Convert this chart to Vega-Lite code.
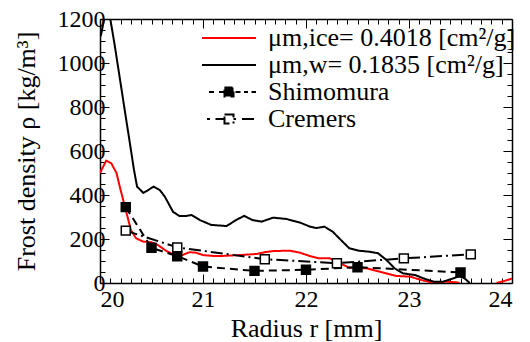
{
  "$schema": "https://vega.github.io/schema/vega-lite/v6.json",
  "autosize": "none",
  "width": 412,
  "height": 264,
  "padding": {"left": 100, "top": 19, "right": 18, "bottom": 59},
  "background": "white",
  "config": {
    "font": "Liberation Serif",
    "style": {
      "guide-label": {"font": "Liberation Serif", "fill": "black"},
      "guide-title": {"font": "Liberation Serif", "fill": "black"}
    },
    "view": {"stroke": null},
    "axis": {
      "grid": false,
      "domainColor": "black",
      "domainWidth": 1.5,
      "tickColor": "black",
      "tickWidth": 1,
      "labelFont": "Liberation Serif",
      "labelFontSize": 24,
      "labelColor": "black",
      "titleFont": "Liberation Serif",
      "titleFontSize": 26,
      "titleFontWeight": "normal",
      "titleColor": "black",
      "labelOverlap": false
    },
    "legend": {
      "labelFont": "Liberation Serif",
      "labelFontSize": 26,
      "labelColor": "black",
      "labelLimit": 0
    }
  },
  "data": {
    "values": [
      {"series": "μm,ice= 0.4018 [cm²/g]", "seg": "a", "r": 20.00, "rho": 500},
      {"series": "μm,ice= 0.4018 [cm²/g]", "seg": "a", "r": 20.06, "rho": 556},
      {"series": "μm,ice= 0.4018 [cm²/g]", "seg": "a", "r": 20.11, "rho": 544},
      {"series": "μm,ice= 0.4018 [cm²/g]", "seg": "a", "r": 20.16, "rho": 500},
      {"series": "μm,ice= 0.4018 [cm²/g]", "seg": "a", "r": 20.20, "rho": 423},
      {"series": "μm,ice= 0.4018 [cm²/g]", "seg": "a", "r": 20.25, "rho": 332},
      {"series": "μm,ice= 0.4018 [cm²/g]", "seg": "a", "r": 20.30, "rho": 241},
      {"series": "μm,ice= 0.4018 [cm²/g]", "seg": "a", "r": 20.35, "rho": 203},
      {"series": "μm,ice= 0.4018 [cm²/g]", "seg": "a", "r": 20.42, "rho": 188},
      {"series": "μm,ice= 0.4018 [cm²/g]", "seg": "a", "r": 20.50, "rho": 185},
      {"series": "μm,ice= 0.4018 [cm²/g]", "seg": "a", "r": 20.56, "rho": 173},
      {"series": "μm,ice= 0.4018 [cm²/g]", "seg": "a", "r": 20.64, "rho": 147},
      {"series": "μm,ice= 0.4018 [cm²/g]", "seg": "a", "r": 20.72, "rho": 128},
      {"series": "μm,ice= 0.4018 [cm²/g]", "seg": "a", "r": 20.80, "rho": 127},
      {"series": "μm,ice= 0.4018 [cm²/g]", "seg": "a", "r": 20.87, "rho": 140},
      {"series": "μm,ice= 0.4018 [cm²/g]", "seg": "a", "r": 20.93, "rho": 138},
      {"series": "μm,ice= 0.4018 [cm²/g]", "seg": "a", "r": 21.00, "rho": 127},
      {"series": "μm,ice= 0.4018 [cm²/g]", "seg": "a", "r": 21.10, "rho": 123},
      {"series": "μm,ice= 0.4018 [cm²/g]", "seg": "a", "r": 21.19, "rho": 123},
      {"series": "μm,ice= 0.4018 [cm²/g]", "seg": "a", "r": 21.36, "rho": 127},
      {"series": "μm,ice= 0.4018 [cm²/g]", "seg": "a", "r": 21.52, "rho": 132},
      {"series": "μm,ice= 0.4018 [cm²/g]", "seg": "a", "r": 21.60, "rho": 140},
      {"series": "μm,ice= 0.4018 [cm²/g]", "seg": "a", "r": 21.68, "rho": 145},
      {"series": "μm,ice= 0.4018 [cm²/g]", "seg": "a", "r": 21.84, "rho": 147},
      {"series": "μm,ice= 0.4018 [cm²/g]", "seg": "a", "r": 21.94, "rho": 138},
      {"series": "μm,ice= 0.4018 [cm²/g]", "seg": "a", "r": 22.04, "rho": 122},
      {"series": "μm,ice= 0.4018 [cm²/g]", "seg": "a", "r": 22.13, "rho": 112},
      {"series": "μm,ice= 0.4018 [cm²/g]", "seg": "a", "r": 22.23, "rho": 112},
      {"series": "μm,ice= 0.4018 [cm²/g]", "seg": "a", "r": 22.33, "rho": 89},
      {"series": "μm,ice= 0.4018 [cm²/g]", "seg": "a", "r": 22.42, "rho": 70},
      {"series": "μm,ice= 0.4018 [cm²/g]", "seg": "a", "r": 22.59, "rho": 67},
      {"series": "μm,ice= 0.4018 [cm²/g]", "seg": "a", "r": 22.72, "rho": 51},
      {"series": "μm,ice= 0.4018 [cm²/g]", "seg": "a", "r": 22.88, "rho": 32},
      {"series": "μm,ice= 0.4018 [cm²/g]", "seg": "a", "r": 23.01, "rho": 29},
      {"series": "μm,ice= 0.4018 [cm²/g]", "seg": "a", "r": 23.14, "rho": 11},
      {"series": "μm,ice= 0.4018 [cm²/g]", "seg": "a", "r": 23.24, "rho": 1},
      {"series": "μm,ice= 0.4018 [cm²/g]", "seg": "a", "r": 23.36, "rho": 6},
      {"series": "μm,ice= 0.4018 [cm²/g]", "seg": "a", "r": 23.46, "rho": 3},
      {"series": "μm,ice= 0.4018 [cm²/g]", "seg": "a", "r": 23.49, "rho": 0},
      {"series": "μm,ice= 0.4018 [cm²/g]", "seg": "b", "r": 23.85, "rho": 0},
      {"series": "μm,ice= 0.4018 [cm²/g]", "seg": "b", "r": 23.93, "rho": 10},
      {"series": "μm,ice= 0.4018 [cm²/g]", "seg": "b", "r": 24.00, "rho": 20},
      {"series": "μm,w= 0.1835 [cm²/g]", "seg": "a", "r": 20.00, "rho": 1120},
      {"series": "μm,w= 0.1835 [cm²/g]", "seg": "a", "r": 20.01, "rho": 1127},
      {"series": "μm,w= 0.1835 [cm²/g]", "seg": "a", "r": 20.04, "rho": 1200},
      {"series": "μm,w= 0.1835 [cm²/g]", "seg": "a", "r": 20.10, "rho": 1200},
      {"series": "μm,w= 0.1835 [cm²/g]", "seg": "a", "r": 20.14, "rho": 1089},
      {"series": "μm,w= 0.1835 [cm²/g]", "seg": "a", "r": 20.19, "rho": 938},
      {"series": "μm,w= 0.1835 [cm²/g]", "seg": "a", "r": 20.24, "rho": 786},
      {"series": "μm,w= 0.1835 [cm²/g]", "seg": "a", "r": 20.29, "rho": 636},
      {"series": "μm,w= 0.1835 [cm²/g]", "seg": "a", "r": 20.33, "rho": 514},
      {"series": "μm,w= 0.1835 [cm²/g]", "seg": "a", "r": 20.36, "rho": 438},
      {"series": "μm,w= 0.1835 [cm²/g]", "seg": "a", "r": 20.42, "rho": 410},
      {"series": "μm,w= 0.1835 [cm²/g]", "seg": "a", "r": 20.46, "rho": 420},
      {"series": "μm,w= 0.1835 [cm²/g]", "seg": "a", "r": 20.52, "rho": 438},
      {"series": "μm,w= 0.1835 [cm²/g]", "seg": "a", "r": 20.58, "rho": 423},
      {"series": "μm,w= 0.1835 [cm²/g]", "seg": "a", "r": 20.63, "rho": 392},
      {"series": "μm,w= 0.1835 [cm²/g]", "seg": "a", "r": 20.71, "rho": 323},
      {"series": "μm,w= 0.1835 [cm²/g]", "seg": "a", "r": 20.77, "rho": 305},
      {"series": "μm,w= 0.1835 [cm²/g]", "seg": "a", "r": 20.84, "rho": 305},
      {"series": "μm,w= 0.1835 [cm²/g]", "seg": "a", "r": 20.89, "rho": 309},
      {"series": "μm,w= 0.1835 [cm²/g]", "seg": "a", "r": 20.97, "rho": 286},
      {"series": "μm,w= 0.1835 [cm²/g]", "seg": "a", "r": 21.08, "rho": 264},
      {"series": "μm,w= 0.1835 [cm²/g]", "seg": "a", "r": 21.23, "rho": 259},
      {"series": "μm,w= 0.1835 [cm²/g]", "seg": "a", "r": 21.32, "rho": 286},
      {"series": "μm,w= 0.1835 [cm²/g]", "seg": "a", "r": 21.40, "rho": 305},
      {"series": "μm,w= 0.1835 [cm²/g]", "seg": "a", "r": 21.48, "rho": 286},
      {"series": "μm,w= 0.1835 [cm²/g]", "seg": "a", "r": 21.57, "rho": 279},
      {"series": "μm,w= 0.1835 [cm²/g]", "seg": "a", "r": 21.68, "rho": 297},
      {"series": "μm,w= 0.1835 [cm²/g]", "seg": "a", "r": 21.81, "rho": 291},
      {"series": "μm,w= 0.1835 [cm²/g]", "seg": "a", "r": 21.94, "rho": 275},
      {"series": "μm,w= 0.1835 [cm²/g]", "seg": "a", "r": 22.04, "rho": 256},
      {"series": "μm,w= 0.1835 [cm²/g]", "seg": "a", "r": 22.10, "rho": 250},
      {"series": "μm,w= 0.1835 [cm²/g]", "seg": "a", "r": 22.18, "rho": 256},
      {"series": "μm,w= 0.1835 [cm²/g]", "seg": "a", "r": 22.26, "rho": 233},
      {"series": "μm,w= 0.1835 [cm²/g]", "seg": "a", "r": 22.34, "rho": 195},
      {"series": "μm,w= 0.1835 [cm²/g]", "seg": "a", "r": 22.42, "rho": 158},
      {"series": "μm,w= 0.1835 [cm²/g]", "seg": "a", "r": 22.51, "rho": 147},
      {"series": "μm,w= 0.1835 [cm²/g]", "seg": "a", "r": 22.62, "rho": 142},
      {"series": "μm,w= 0.1835 [cm²/g]", "seg": "a", "r": 22.70, "rho": 135},
      {"series": "μm,w= 0.1835 [cm²/g]", "seg": "a", "r": 22.78, "rho": 105},
      {"series": "μm,w= 0.1835 [cm²/g]", "seg": "a", "r": 22.86, "rho": 67},
      {"series": "μm,w= 0.1835 [cm²/g]", "seg": "a", "r": 22.94, "rho": 44},
      {"series": "μm,w= 0.1835 [cm²/g]", "seg": "a", "r": 23.06, "rho": 36},
      {"series": "μm,w= 0.1835 [cm²/g]", "seg": "a", "r": 23.14, "rho": 21},
      {"series": "μm,w= 0.1835 [cm²/g]", "seg": "a", "r": 23.24, "rho": 6},
      {"series": "μm,w= 0.1835 [cm²/g]", "seg": "a", "r": 23.33, "rho": 6},
      {"series": "μm,w= 0.1835 [cm²/g]", "seg": "a", "r": 23.43, "rho": 21},
      {"series": "μm,w= 0.1835 [cm²/g]", "seg": "a", "r": 23.49, "rho": 32},
      {"series": "μm,w= 0.1835 [cm²/g]", "seg": "a", "r": 23.54, "rho": 21},
      {"series": "μm,w= 0.1835 [cm²/g]", "seg": "a", "r": 23.59, "rho": 0},
      {"series": "Shimomura", "seg": "a", "r": 20.25, "rho": 345},
      {"series": "Shimomura", "seg": "a", "r": 20.5, "rho": 160},
      {"series": "Shimomura", "seg": "a", "r": 20.75, "rho": 122},
      {"series": "Shimomura", "seg": "a", "r": 21.0, "rho": 75},
      {"series": "Shimomura", "seg": "a", "r": 21.5, "rho": 55},
      {"series": "Shimomura", "seg": "a", "r": 22.0, "rho": 60},
      {"series": "Shimomura", "seg": "a", "r": 22.5, "rho": 72},
      {"series": "Shimomura", "seg": "a", "r": 23.5, "rho": 48},
      {"series": "Cremers", "seg": "a", "r": 20.25, "rho": 238},
      {"series": "Cremers", "seg": "a", "r": 20.75, "rho": 162},
      {"series": "Cremers", "seg": "a", "r": 21.6, "rho": 108},
      {"series": "Cremers", "seg": "a", "r": 22.3, "rho": 90},
      {"series": "Cremers", "seg": "a", "r": 22.95, "rho": 112},
      {"series": "Cremers", "seg": "a", "r": 23.6, "rho": 130}
    ]
  },
  "layer": [
    {
      "mark": {"type": "line", "clip": true},
      "encoding": {
        "x": {
          "field": "r", "type": "quantitative",
          "scale": {"domain": [20, 24], "nice": false, "zero": false},
          "axis": {
            "orient": "bottom",
            "title": "Radius r [mm]",
            "titlePadding": 0,
            "values": [20,20.1,20.2,20.3,20.4,20.5,20.6,20.7,20.8,20.9,21,21.1,21.2,21.3,21.4,21.5,21.6,21.7,21.8,21.9,22,22.1,22.2,22.3,22.4,22.5,22.6,22.7,22.8,22.9,23,23.1,23.2,23.3,23.4,23.5,23.6,23.7,23.8,23.9,24],
            "labelExpr": "abs(datum.value - round(datum.value)) < 0.01 ? format(datum.value, 'd') : ''",
            "tickSize": {"condition": {"test": "abs(datum.value - round(datum.value)) < 0.01", "value": -9}, "value": -5},
            "labelPadding": 13
          }
        },
        "y": {
          "field": "rho", "type": "quantitative",
          "scale": {"domain": [0, 1200], "nice": false},
          "axis": {
            "orient": "left",
            "title": "Frost density ρ [kg/m³]",
            "titlePadding": 18,
            "format": "d",
            "values": [0,50,100,150,200,250,300,350,400,450,500,550,600,650,700,750,800,850,900,950,1000,1050,1100,1150,1200],
            "labelExpr": "datum.value % 200 === 0 ? datum.label : ''",
            "tickSize": {"condition": {"test": "datum.value % 200 === 0", "value": -9}, "value": -5},
            "labelPadding": 4
          }
        },
        "detail": {"field": "seg"},
        "color": {
          "field": "series", "type": "nominal",
          "scale": {
            "domain": ["μm,ice= 0.4018 [cm²/g]", "μm,w= 0.1835 [cm²/g]", "Shimomura", "Cremers"],
            "range": ["#ff0000", "#000000", "#000000", "#000000"]
          },
          "legend": {
            "title": null,
            "orient": "none",
            "legendX": 116,
            "legendY": 6,
            "padding": 0,
            "symbolSize": 100,
            "symbolStrokeWidth": 1.5,
            "labelOffset": 26,
            "labelLimit": 0,
            "rowPadding": 1,
            "encode": {
              "symbols": {
                "update": {
                  "shape": {"signal": "datum.value === 'Shimomura' ? 'M-4,0H-3M-2,0H-0.9M1.3,0H2.3M3,0H3.8M4.5,0H5.4M-0.9,-0.9H0.9V0.9H-0.9Z' : datum.value === 'Cremers' ? 'M-4.4,0H-3.8M-2.7,0H-0.9M0.9,0H1.4M2.6,0H5.4M-0.9,-0.9H0.9V0.9H-0.9Z' : 'M-5.4,0H5.4'"},
                  "fill": {"signal": "datum.value === 'Shimomura' ? 'black' : 'white'"},
                  "strokeDash": {"value": [1, 0]},
                  "opacity": {"value": 1}
                }
              }
            }
          }
        },
        "strokeDash": {
          "field": "series", "type": "nominal",
          "scale": {
            "domain": ["μm,ice= 0.4018 [cm²/g]", "μm,w= 0.1835 [cm²/g]", "Shimomura", "Cremers"],
            "range": [[1, 0], [1, 0], [8, 5], [12, 4, 2, 4]]
          },
          "legend": null
        },
        "strokeWidth": {
          "field": "series", "type": "nominal",
          "scale": {
            "domain": ["μm,ice= 0.4018 [cm²/g]", "μm,w= 0.1835 [cm²/g]", "Shimomura", "Cremers"],
            "range": [2, 2, 1.5, 1.5]
          },
          "legend": null
        }
      }
    },
    {
      "transform": [{"filter": "datum.series === 'Shimomura' || datum.series === 'Cremers'"}],
      "mark": {"type": "point", "shape": "square", "size": 80, "stroke": "black", "strokeWidth": 1.5, "opacity": 1},
      "encoding": {
        "x": {
          "field": "r", "type": "quantitative",
          "axis": {
            "orient": "top",
            "title": null,
            "labels": false,
            "values": [20,20.1,20.2,20.3,20.4,20.5,20.6,20.7,20.8,20.9,21,21.1,21.2,21.3,21.4,21.5,21.6,21.7,21.8,21.9,22,22.1,22.2,22.3,22.4,22.5,22.6,22.7,22.8,22.9,23,23.1,23.2,23.3,23.4,23.5,23.6,23.7,23.8,23.9,24],
            "tickSize": {"condition": {"test": "abs(datum.value - round(datum.value)) < 0.01", "value": -9}, "value": -5}
          }
        },
        "y": {
          "field": "rho", "type": "quantitative",
          "axis": {
            "orient": "right",
            "title": null,
            "labels": false,
            "values": [0,50,100,150,200,250,300,350,400,450,500,550,600,650,700,750,800,850,900,950,1000,1050,1100,1150,1200],
            "tickSize": {"condition": {"test": "datum.value % 200 === 0", "value": -9}, "value": -5}
          }
        },
        "fill": {
          "field": "series", "type": "nominal",
          "scale": {"domain": ["Shimomura", "Cremers"], "range": ["black", "white"]},
          "legend": null
        }
      }
    }
  ],
  "resolve": {"axis": {"x": "independent", "y": "independent"}}
}
